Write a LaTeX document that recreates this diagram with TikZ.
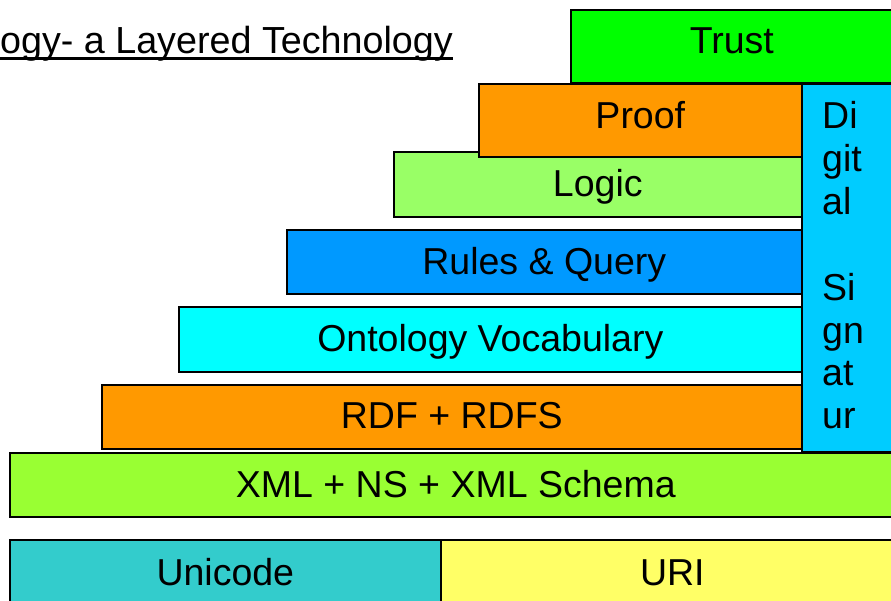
\documentclass[tikz,border=0pt]{standalone}
\usepackage{fontspec}
\setmainfont{Liberation Sans}
\begin{document}
\begin{tikzpicture}[x=1pt,y=-1pt,
  layerbox/.style={draw=black, line width=1.6pt, anchor=north west, inner sep=0pt},
  lbl/.style={anchor=base, inner sep=0pt, font=\fontsize{37.5}{43}\selectfont},
  cTrust/.style={fill={rgb,255:red,0;green,255;blue,0}},
  cOrange/.style={fill={rgb,255:red,255;green,153;blue,0}},
  cLogic/.style={fill={rgb,255:red,153;green,255;blue,102}},
  cRules/.style={fill={rgb,255:red,0;green,153;blue,255}},
  cOnto/.style={fill={rgb,255:red,0;green,255;blue,255}},
  cXML/.style={fill={rgb,255:red,153;green,255;blue,51}},
  cSig/.style={fill={rgb,255:red,0;green,204;blue,255}},
  cUni/.style={fill={rgb,255:red,51;green,204;blue,204}},
  cURI/.style={fill={rgb,255:red,255;green,255;blue,102}}]
\useasboundingbox (0,0) rectangle (891,600);
\clip (0,0) rectangle (891,600);
% title
\node[anchor=base east, inner sep=0pt, font=\fontsize{37.7}{44}\selectfont] (title) at (453,53) {ogy- a Layered Technology};
\draw[line width=2.6pt] (title.base west |- 0,58.5) -- (453,58.5);
% layers
\node[layerbox, cTrust, minimum width=322pt, minimum height=73pt] (trust) at (570,9) {};
\node[layerbox, cLogic, minimum width=408pt, minimum height=65pt] (logic) at (393,151) {};
\node[layerbox, cOrange, minimum width=323pt, minimum height=73pt] (proof) at (478,83) {};
\node[layerbox, cRules, minimum width=515pt, minimum height=64pt] (rules) at (286,229) {};
\node[layerbox, cOnto, minimum width=623pt, minimum height=65pt] (onto) at (178,306) {};
\node[layerbox, cOrange, minimum width=700pt, minimum height=64pt] (rdf) at (101,384) {};
\node[layerbox, cSig, minimum width=110pt, minimum height=368pt] (sig) at (801,83) {};
\node[layerbox, cXML, minimum width=892pt, minimum height=64pt] (xml) at (9,452) {};
\node[layerbox, cUni, minimum width=431pt, minimum height=80pt] (uni) at (9,539) {};
\node[layerbox, cURI, minimum width=463pt, minimum height=80pt] (uri) at (440,539) {};
% labels
\node[lbl] (tTrust) at ([yshift=-44pt]trust.north) {Trust};
\node[lbl] (tProof) at ([yshift=-45pt]proof.north) {Proof};
\node[lbl] (tLogic) at ([yshift=-45pt]logic.north) {Logic};
\node[lbl] (tRules) at ([yshift=-45pt]rules.north) {Rules \& Query};
\node[lbl] (tOnto) at ([yshift=-45pt]onto.north) {Ontology Vocabulary};
\node[lbl] (tRdf) at ([yshift=-44pt]rdf.north) {RDF + RDFS};
\node[lbl] (tXml) at ([yshift=-45pt]xml.north) {XML + NS + XML Schema};
\node[lbl] (tUni) at ([yshift=-46pt]uni.north) {Unicode};
\node[lbl] (tUri) at ([yshift=-46pt]uri.north) {URI};
\node[anchor=north west, inner sep=0pt, align=left, font=\fontsize{37.5}{42.9}\selectfont] (tSig) at (822,101.2) {Di\\git\\al\\[42.9pt]Si\\gn\\at\\ur};
\end{tikzpicture}
\end{document}
